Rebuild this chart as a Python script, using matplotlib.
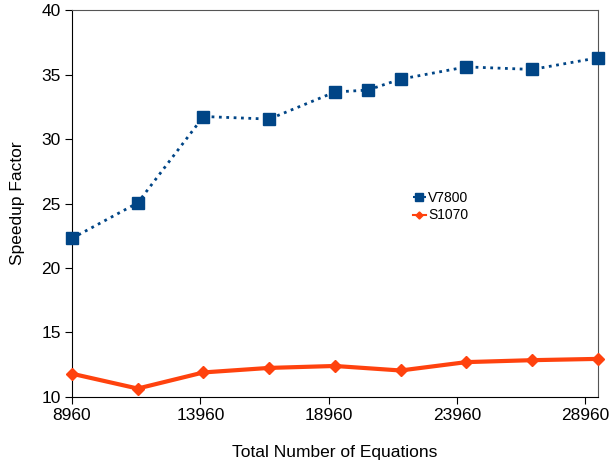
import matplotlib
matplotlib.use("Agg")
import matplotlib.pyplot as plt

plt.rcParams['font.family'] = ['Liberation Sans', 'DejaVu Sans']

# total number of equations for each run
eq_v7800 = [8960, 11520, 14080, 16640, 19200, 20480, 21760, 24320, 26880, 29440]
eq_s1070 = [8960, 11520, 14080, 16640, 19200, 21760, 24320, 26880, 29440]

speedup_v7800 = [22.3, 25.05, 31.75, 31.55, 33.65, 33.8, 34.65, 35.6, 35.4, 36.3]
speedup_s1070 = [11.8, 10.65, 11.9, 12.25, 12.4, 12.05, 12.7, 12.85, 12.95]

xticks = [8960, 13960, 18960, 23960, 28960]
yticks = [10, 15, 20, 25, 30, 35, 40]

fig = plt.figure(figsize=(6.1, 4.61), dpi=100)
ax = fig.add_axes([0.118, 0.139, 0.862, 0.839])

ax.plot(eq_v7800, speedup_v7800, color='#004586', linestyle=':', linewidth=2,
        marker='s', markersize=9, label='V7800', clip_on=False, zorder=3)
ax.plot(eq_s1070, speedup_s1070, color='#ff420e', linestyle='-', linewidth=3,
        marker='D', markersize=6, label='S1070', clip_on=False, zorder=3)

ax.set_xlim(8960, 29440)
ax.set_ylim(10, 40)
ax.set_xticks(xticks)
ax.set_yticks(yticks)
ax.tick_params(direction='out', length=5, labelsize=12.5, colors='black', pad=3)

ax.set_xlabel('Total Number of Equations', fontsize=12.5, labelpad=16)
ax.set_ylabel('Speedup Factor', fontsize=12.5, labelpad=12)

for side in ('top', 'right'):
    ax.spines[side].set_color('#555555')

leg = ax.legend(loc='upper left', bbox_to_anchor=(0.625, 0.565), frameon=False,
                fontsize=10, handlelength=0.9, handletextpad=0.2,
                markerscale=0.6, labelspacing=0.25)
for line in leg.get_lines():
    line.set_linewidth(1.5)

fig.savefig('out.png', dpi=100)
